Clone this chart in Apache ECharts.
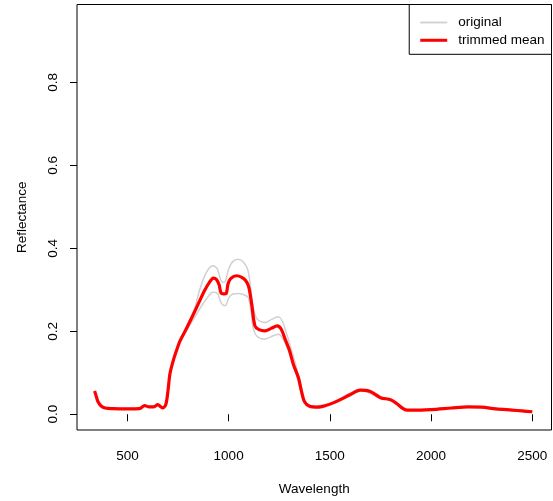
<!DOCTYPE html>
<html>
<head>
<meta charset="utf-8">
<script src="https://cdn.jsdelivr.net/npm/echarts@6/dist/echarts.min.js"></script>
<style>
html,body{margin:0;padding:0;background:#fff;}
#chart{width:553px;height:501px;}
</style>
</head>
<body>
<div id="chart"></div>
<script>
// Trimmed mean spectrum
var meanWl = [338,345,355,370,390,430,500,560,585,605,630,650,665,675,690,700,710,725,740,760,790,820,850,880,905,925,940,953,962,975,988,997,1010,1040,1065,1085,1100,1115,1130,1150,1180,1210,1240,1260,1280,1300,1320,1345,1360,1375,1400,1440,1480,1520,1560,1600,1650,1700,1750,1800,1830,1860,1880,1950,2000,2100,2180,2250,2320,2400,2450,2500];
var meanVals = [0.056,0.045,0.030,0.020,0.015,0.0135,0.013,0.0135,0.021,0.018,0.018,0.023,0.018,0.015,0.024,0.055,0.097,0.127,0.150,0.177,0.205,0.235,0.266,0.297,0.318,0.328,0.325,0.312,0.293,0.290,0.291,0.314,0.327,0.334,0.330,0.322,0.306,0.262,0.213,0.204,0.201,0.207,0.213,0.205,0.180,0.155,0.120,0.088,0.055,0.030,0.019,0.017,0.021,0.028,0.037,0.047,0.058,0.055,0.040,0.035,0.026,0.014,0.010,0.010,0.011,0.015,0.018,0.017,0.013,0.010,0.008,0.006];
// Original spectra (upper and lower)
var origWl = [338,345,355,370,400,500,560,585,605,630,650,665,675,690,700,710,725,740,760,790,830,857,890,923,945,960,972,985,1000,1020,1047,1075,1096,1110,1121,1140,1178,1210,1244,1265,1302,1330,1360,1380,1400,1500,1650,1750,1800,1860,1900,2000,2200,2400,2500];
var origUpper = [0.057,0.046,0.031,0.021,0.015,0.014,0.014,0.022,0.019,0.019,0.024,0.019,0.016,0.025,0.056,0.098,0.128,0.152,0.179,0.209,0.252,0.300,0.342,0.358,0.350,0.325,0.318,0.322,0.350,0.368,0.374,0.366,0.346,0.300,0.258,0.230,0.221,0.228,0.235,0.225,0.169,0.122,0.062,0.030,0.020,0.026,0.059,0.041,0.036,0.015,0.010,0.011,0.018,0.010,0.006];
var origLower = [0.055,0.044,0.029,0.019,0.014,0.012,0.013,0.020,0.017,0.017,0.022,0.017,0.014,0.023,0.054,0.096,0.126,0.148,0.175,0.201,0.232,0.254,0.278,0.294,0.292,0.272,0.263,0.262,0.280,0.290,0.291,0.288,0.282,0.250,0.209,0.188,0.181,0.187,0.193,0.185,0.145,0.103,0.050,0.027,0.018,0.025,0.057,0.039,0.034,0.013,0.009,0.010,0.017,0.009,0.005];
var xTicks = [500,1000,1500,2000,2500];
var yTicks = [0,0.2,0.4,0.6,0.8];

function pairs(xs, ys){ return xs.map(function(x,i){ return [x, ys[i]]; }); }

var chart = echarts.init(document.getElementById('chart'), null, {renderer:'canvas'});
var font = 'Liberation Sans, Arial, sans-serif';
var option = {
  animation: false,
  textStyle: {fontFamily: font},
  grid: {left: 77, right: 1.5, top: 4.5, bottom: 71, show: true, borderColor: '#000', borderWidth: 1, backgroundColor: 'transparent'},
  legend: {
    orient: 'vertical', right: 1.5, top: 4.5,
    data: [
      {name: 'original', icon: 'path://M0,0h27v1.8h-27z', itemStyle: {color: '#d0d0d0'}},
      {name: 'trimmed mean', icon: 'path://M0,0h27v3h-27z', itemStyle: {color: '#ff0000'}}
    ],
    itemWidth: 27, itemHeight: 12, itemGap: 3.8,
    padding: [11, 7, 7, 11],
    borderColor: '#000', borderWidth: 1, backgroundColor: '#fff',
    textStyle: {fontFamily: font, fontSize: 13.5, color: '#000', padding: [0,0,0,6]},
    selectedMode: false
  },
  xAxis: {
    type: 'value', min: 251, max: 2595,
    name: 'Wavelength', nameLocation: 'middle', nameGap: 52,
    nameTextStyle: {fontFamily: font, fontSize: 13.5, color: '#000'},
    axisLine: {show: false},
    splitLine: {show: false},
    axisTick: {show: true, length: 7, customValues: xTicks, lineStyle: {color: '#000', width: 1}},
    axisLabel: {customValues: xTicks, margin: 19, fontFamily: font, fontSize: 13.5, color: '#000',
      formatter: function(v){ return String(v); }}
  },
  yAxis: {
    type: 'value', min: -0.038, max: 0.988,
    name: 'Reflectance', nameLocation: 'middle', nameGap: 48, nameRotate: 90,
    nameTextStyle: {fontFamily: font, fontSize: 13.5, color: '#000'},
    axisLine: {show: false},
    splitLine: {show: false},
    axisTick: {show: true, length: 7, customValues: yTicks, lineStyle: {color: '#000', width: 1}},
    axisLabel: {customValues: yTicks, rotate: 90, margin: 17, fontFamily: font, fontSize: 13.5, color: '#000',
      formatter: function(v){ return v.toFixed(1); }}
  },
  series: [
    {name: 'original', type: 'line', data: pairs(origWl, origUpper), showSymbol: false, symbol: 'none', smooth: 0.3,
     lineStyle: {color: '#d0d0d0', width: 1.5}, itemStyle: {color: '#d0d0d0'}, silent: true, z: 1},
    {name: 'original', type: 'line', data: pairs(origWl, origLower), showSymbol: false, symbol: 'none', smooth: 0.3,
     lineStyle: {color: '#d0d0d0', width: 1.5}, itemStyle: {color: '#d0d0d0'}, silent: true, z: 1},
    {name: 'trimmed mean', type: 'line', data: pairs(meanWl, meanVals), showSymbol: false, symbol: 'none', smooth: 0.3,
     lineStyle: {color: '#ff0000', width: 3.2}, itemStyle: {color: '#ff0000'}, silent: true, z: 2}
  ]
};
chart.setOption(option);
</script>
</body>
</html>
